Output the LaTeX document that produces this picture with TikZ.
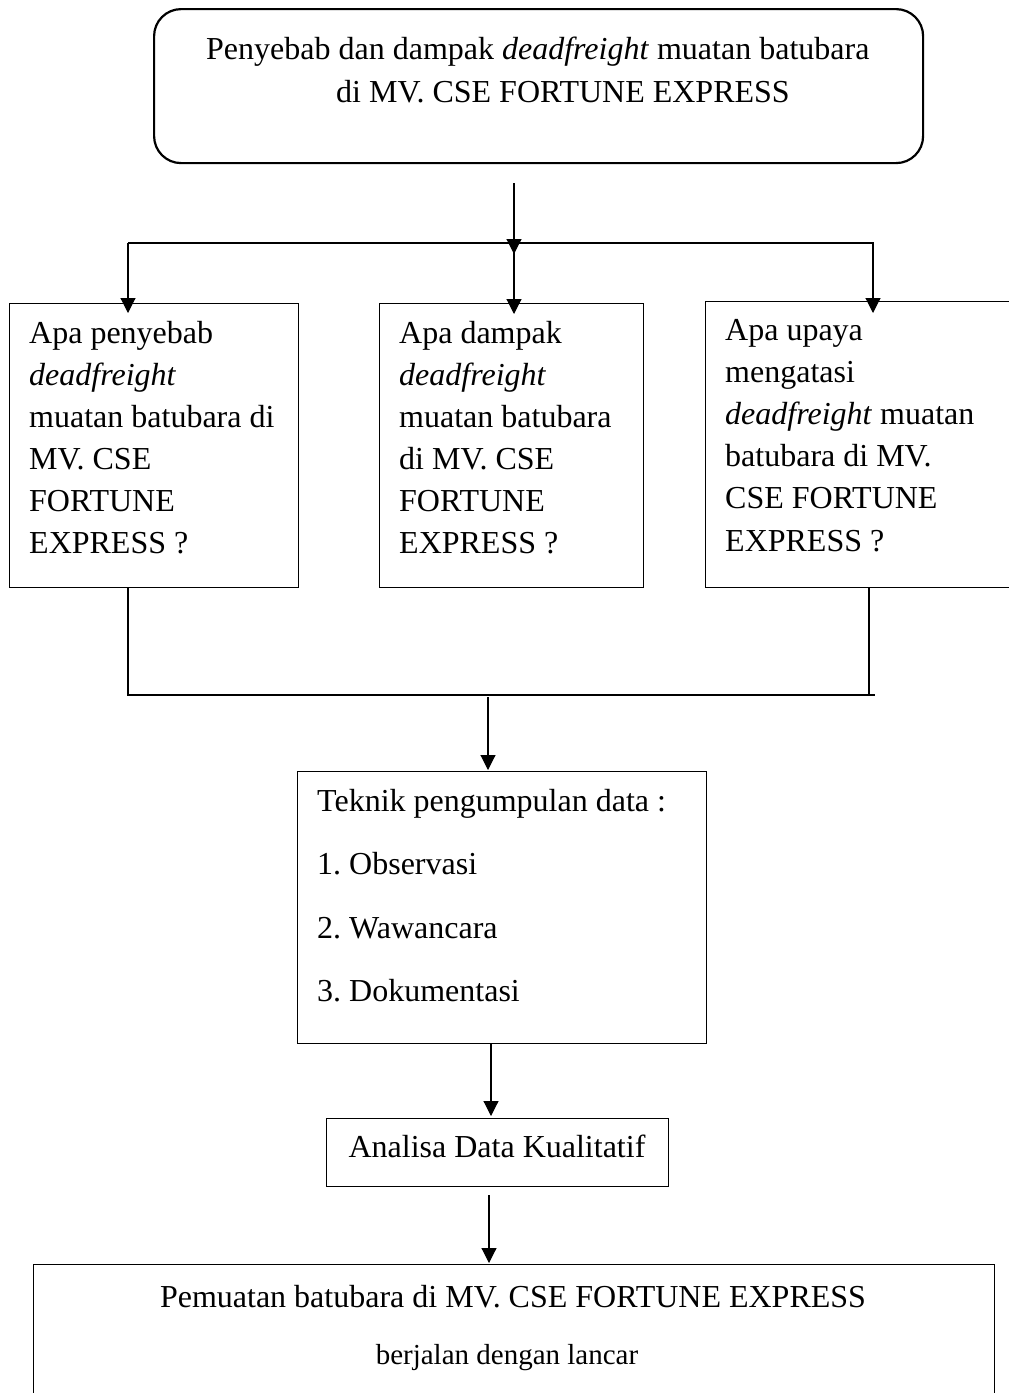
\documentclass[tikz,border=0pt]{standalone}
\usepackage{fontspec}
\setmainfont{Liberation Serif}
\usetikzlibrary{arrows.meta}
\frenchspacing
\newcommand\txtlines[3]{\fontsize{#1}{#2}\selectfont\begin{tabular}[t]{@{}l@{}}#3\end{tabular}}
\begin{document}
\begin{tikzpicture}[x=1pt,y=-1pt,
  box/.style={draw, line width=1.3pt, inner sep=0pt, anchor=north west},
  txt/.style={inner sep=0pt, anchor=base west},
  ctxt/.style={inner sep=0pt, anchor=base},
  conn/.style={line width=1.1pt},
  arr/.style={conn, -{Triangle[width=15pt,length=15pt]}}]
\clip (0,0) rectangle (1009,1393);
\fill[white] (0,0) rectangle (1009,1393);
% boxes
\node[box, rounded corners=27pt, line width=2.2pt, minimum width=769pt, minimum height=154pt] (top) at (153,8) {};
\node[box, minimum width=289pt, minimum height=284pt] (b1) at (9,303) {};
\node[box, minimum width=264pt, minimum height=284pt] (b2) at (379,303) {};
\node[box, minimum width=325pt, minimum height=286pt] (b3) at (705,301) {};
\node[box, minimum width=409pt, minimum height=272pt] (b4) at (297,771) {};
\node[box, minimum width=342pt, minimum height=68pt] (b5) at (326,1118) {};
\node[box, minimum width=961pt, minimum height=160pt] (b6) at (33,1264) {};
% texts
\node[txt] (tt1) at (206,59) {\fontsize{32}{38}\selectfont Penyebab dan dampak \textit{deadfreight} muatan batubara};
\node[txt] (tt2) at (336,102) {\fontsize{32}{38}\selectfont di MV. CSE FORTUNE EXPRESS};
\node[txt] (t1) at (29,343) {\txtlines{32}{42}{Apa penyebab\\\textit{deadfreight}\\muatan batubara di\\MV. CSE\\FORTUNE\\EXPRESS ?}};
\node[txt] (t2) at (399,343) {\txtlines{32}{42}{Apa dampak\\\textit{deadfreight}\\muatan batubara\\di MV. CSE\\FORTUNE\\EXPRESS ?}};
\node[txt] (t3) at (725,340) {\txtlines{32}{42.2}{Apa upaya\\mengatasi\\\textit{deadfreight} muatan\\batubara di MV.\\CSE FORTUNE\\EXPRESS ?}};
\node[txt] (t4) at (317,811) {\txtlines{32}{63.5}{Teknik pengumpulan data :\\1. Observasi\\2. Wawancara\\3. Dokumentasi}};
\node[ctxt] (t5) at (497,1157) {\fontsize{32}{38}\selectfont Analisa Data Kualitatif};
\node[ctxt] (t6a) at (513,1307) {\fontsize{32}{38}\selectfont Pemuatan batubara di MV. CSE FORTUNE EXPRESS};
\node[ctxt] (t6b) at (507,1364) {\fontsize{29}{34}\selectfont berjalan dengan lancar};
% connector points
\coordinate (s0) at (514,183);
\coordinate (k0) at (514,254);
\coordinate (hl) at (128,243);
\coordinate (hm) at (514,243);
\coordinate (hr) at (874,243);
\coordinate (hr3) at (873,243);
\coordinate (a1) at (128,313);
\coordinate (a2) at (514,314);
\coordinate (a3) at (873,313);
\coordinate (d1) at (128,587);
\coordinate (d3) at (869,587);
\coordinate (ml) at (128,695);
\coordinate (mr) at (875,695);
\coordinate (m3) at (869,695);
\coordinate (mc) at (488,697);
\coordinate (a4) at (488,770);
\coordinate (e4) at (491,1043);
\coordinate (a5) at (491,1116);
\coordinate (e5) at (489,1195);
\coordinate (a6) at (489,1263);
% connectors
\draw[arr] (s0) -- (k0);
\draw[conn] (hl) -- (hr);
\draw[arr] (hm) -- (a2);
\draw[arr] (hl) -- (a1);
\draw[arr] (hr3) -- (a3);
\draw[conn] (d1) -- (ml) -- (mr);
\draw[conn] (d3) -- (m3);
\draw[arr] (mc) -- (a4);
\draw[arr] (e4) -- (a5);
\draw[arr] (e5) -- (a6);
\end{tikzpicture}
\end{document}
